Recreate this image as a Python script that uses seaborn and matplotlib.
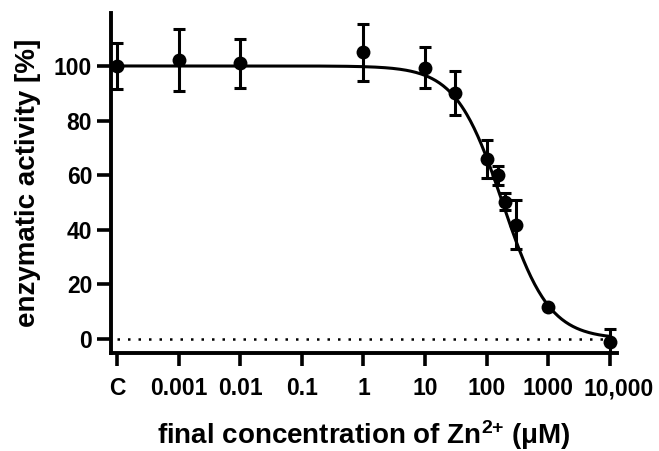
import numpy as np
import pandas as pd
import matplotlib
matplotlib.use("Agg")
import matplotlib.pyplot as plt
import matplotlib.transforms as mtransforms
import seaborn as sns

# Zn2+ concentration (µM); the control "C" is placed one decade below 0.001
conc = [1e-4, 0.001, 0.01, 1, 10, 30, 100, 150, 200, 300, 1000, 10000]
activity = [100, 102.2, 101, 105, 99.3, 90, 66, 60, 50.3, 41.8, 11.8, -1]
sem = [8.4, 11.5, 9, 10.4, 7.5, 8, 7, 3.5, 3.2, 9, 0, 4.7]

# four-parameter logistic fit
fit_top, fit_bottom, fit_ic50, fit_hill = 100.0, 0.0, 180.0, 1.15

tick_pos = [1e-4, 1e-3, 1e-2, 1e-1, 1, 10, 100, 1000, 10000]
tick_labels = ["C", "0.001", "0.01", "0.1", "1", "10", "100", "1000", "10,000"]
yticks = [0, 20, 40, 60, 80, 100]

sns.set_style("ticks")
plt.rcParams["font.family"] = ["Liberation Sans", "DejaVu Sans"]
plt.rcParams["font.weight"] = "bold"
plt.rcParams["mathtext.default"] = "regular"
plt.rcParams["text.color"] = "black"
plt.rcParams["axes.labelcolor"] = "black"
plt.rcParams["xtick.color"] = "black"
plt.rcParams["ytick.color"] = "black"
plt.rcParams["axes.edgecolor"] = "black"

fig = plt.figure(figsize=(6.59, 4.51), dpi=100)
ax = fig.add_axes([0.1684, 0.2173, 0.7676, 0.7539])

xs = np.logspace(-4, 4, 400)
ys = fit_bottom + (fit_top - fit_bottom) / (1 + (xs / fit_ic50) ** fit_hill)
curve = pd.DataFrame({"x": xs, "y": ys})
sns.lineplot(data=curve, x="x", y="y", ax=ax, color="black", lw=2.2, zorder=3)

ax.axhline(0, xmin=0.012, xmax=0.985, color="black", lw=1.8, ls=(0, (1, 3.2)), zorder=1)

ax.errorbar(conc, activity, yerr=sem, fmt="none", ecolor="black",
            elinewidth=2.2, capsize=4.5, capthick=2.2, zorder=4)
pts = pd.DataFrame({"x": conc, "y": activity})
sns.scatterplot(data=pts, x="x", y="y", ax=ax, color="black", s=100,
                edgecolor="black", linewidth=0, zorder=5)

ax.set_xscale("log")
ax.set_xlim(10 ** -4.097, 10 ** 4.11)
ax.set_ylim(-5.1, 119.4)
ax.set_xticks(tick_pos)
ax.set_xticklabels(tick_labels)
ax.minorticks_off()
ax.set_yticks(yticks)

for s in ["top", "right"]:
    ax.spines[s].set_visible(False)
for s in ["left", "bottom"]:
    ax.spines[s].set_linewidth(2.8)
ax.tick_params(axis="y", length=10, width=2.6, labelsize=16.5, pad=3.5)
ax.tick_params(axis="x", length=9.5, width=2.6, labelsize=16.5, pad=8)
for lab in ax.get_xticklabels() + ax.get_yticklabels():
    lab.set_fontweight("bold")

# nudge the last x label right so it clears its neighbour
last = ax.get_xticklabels()[-1]
last.set_transform(last.get_transform() +
                   mtransforms.ScaledTranslation(9 / 100, 0, fig.dpi_scale_trans))

ax.set_xlabel("final concentration of Zn$^{2{+}}$ (μM)", fontsize=20,
              fontweight="bold", labelpad=13)
ax.set_ylabel("enzymatic activity [%]", fontsize=20, fontweight="bold", labelpad=9)

fig.savefig("out.png", dpi=100)
